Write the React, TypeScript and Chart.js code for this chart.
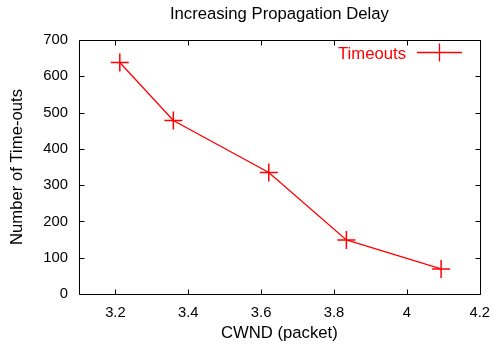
import React, { useEffect, useRef } from "react";
import { Chart, registerables } from "chart.js";

Chart.register(...registerables);

const chartTitle = "Increasing Propagation Delay";
const xAxisTitle = "CWND (packet)";
const yAxisTitle = "Number of Time-outs";
const seriesLabel = "Timeouts";
const cwnd = [3.212, 3.359, 3.621, 3.834, 4.094];
const timeouts = [638, 478, 335, 149, 69];
const xTickValues = [3.2, 3.4, 3.6, 3.8, 4.0, 4.2];
const xTickLabels = ["3.2", "3.4", "3.6", "3.8", "4", "4.2"];
const yTickValues = [0, 100, 200, 300, 400, 500, 600, 700];

const FONT = "'Liberation Sans', Arial, sans-serif";
const RED = "#ff0000";
const TEXT_SIZE = 16.7;

const framePlugin = {
  id: "gnuplotFrame",
  afterDraw(chart: any) {
    const { ctx, chartArea } = chart;
    const { left, right, top, bottom } = chartArea;
    const xs = chart.scales.x;
    const ys = chart.scales.y;
    const tick = 5;
    ctx.save();
    ctx.strokeStyle = "#000";
    ctx.lineWidth = 1;
    ctx.beginPath();
    const L = Math.round(left) + 0.5;
    const R = Math.round(right) + 0.5;
    const T = Math.round(top) + 0.5;
    const B = Math.round(bottom) + 0.5;
    ctx.rect(L, T, R - L, B - T);
    xTickValues.forEach((v) => {
      const px = Math.round(xs.getPixelForValue(v)) + 0.5;
      ctx.moveTo(px, B);
      ctx.lineTo(px, B - tick);
      ctx.moveTo(px, T);
      ctx.lineTo(px, T + tick);
    });
    yTickValues.forEach((v) => {
      const py = Math.round(ys.getPixelForValue(v)) + 0.5;
      ctx.moveTo(L, py);
      ctx.lineTo(L + tick, py);
      ctx.moveTo(R, py);
      ctx.lineTo(R - tick, py);
    });
    ctx.stroke();

    // title
    ctx.fillStyle = "#000";
    ctx.font = `${TEXT_SIZE}px ${FONT}`;
    ctx.textAlign = "center";
    ctx.textBaseline = "alphabetic";
    ctx.fillText(chartTitle, (left + right) / 2, 19);

    // legend
    const label = chart.data.datasets[0].label;
    ctx.fillStyle = RED;
    ctx.textAlign = "right";
    ctx.fillText(label, 406, 58.5);
    ctx.strokeStyle = RED;
    ctx.lineWidth = 1.3;
    ctx.beginPath();
    ctx.moveTo(417, 52.5);
    ctx.lineTo(462, 52.5);
    ctx.moveTo(439.5, 43.5);
    ctx.lineTo(439.5, 61.5);
    ctx.stroke();
    ctx.restore();
  },
};

export default function App() {
  const ref = useRef<HTMLCanvasElement | null>(null);
  useEffect(() => {
    document.body.style.margin = "0";
    const canvas = ref.current!;
    const chart = new Chart(canvas, {
      type: "line",
      data: {
        datasets: [
          {
            label: seriesLabel,
            data: cwnd.map((x, i) => ({ x, y: timeouts[i] })),
            borderColor: RED,
            backgroundColor: RED,
            borderWidth: 1.3,
            pointStyle: "cross",
            pointRadius: 9,
            pointBorderWidth: 1.5,
            pointBorderColor: RED,
            tension: 0,
            fill: false,
          },
        ],
      },
      options: {
        animation: false,
        responsive: false,
        devicePixelRatio: 1,
        layout: { padding: { top: 40, right: 17, left: 0, bottom: 0 } },
        plugins: {
          legend: { display: false },
          title: { display: false },
          tooltip: { enabled: false },
        },
        scales: {
          x: {
            type: "linear",
            min: 3.1,
            max: 4.2,
            afterBuildTicks: (scale: any) => {
              scale.ticks = xTickValues.map((v) => ({ value: v }));
            },
            afterFit: (scale: any) => {
              scale.height = 51;
            },
            grid: { display: false, drawTicks: false },
            border: { display: false },
            ticks: {
              color: "#000",
              font: { family: FONT, size: 14.8 },
              padding: 10,
              maxRotation: 0,
              autoSkip: false,
              callback: (_v: any, i: number) => xTickLabels[i],
            },
            title: {
              display: true,
              text: xAxisTitle,
              color: "#000",
              font: { family: FONT, size: TEXT_SIZE },
              padding: { top: 0, bottom: 2 },
            },
          },
          y: {
            type: "linear",
            min: 0,
            max: 700,
            afterBuildTicks: (scale: any) => {
              scale.ticks = yTickValues.map((v) => ({ value: v }));
            },
            afterFit: (scale: any) => {
              scale.width = 79;
            },
            grid: { display: false, drawTicks: false },
            border: { display: false },
            ticks: {
              color: "#000",
              font: { family: FONT, size: 14.8 },
              padding: 11,
              autoSkip: false,
              callback: (v: any) => String(v),
            },
            title: {
              display: true,
              text: yAxisTitle,
              color: "#000",
              font: { family: FONT, size: TEXT_SIZE },
              padding: { top: 7, bottom: 0 },
            },
          },
        },
      },
      plugins: [framePlugin],
    } as any);
    return () => chart.destroy();
  }, []);
  return (
    <div style={{ width: 500, height: 345 }}>
      <canvas ref={ref} width={500} height={345} style={{ width: 500, height: 345, display: "block" }} />
    </div>
  );
}
